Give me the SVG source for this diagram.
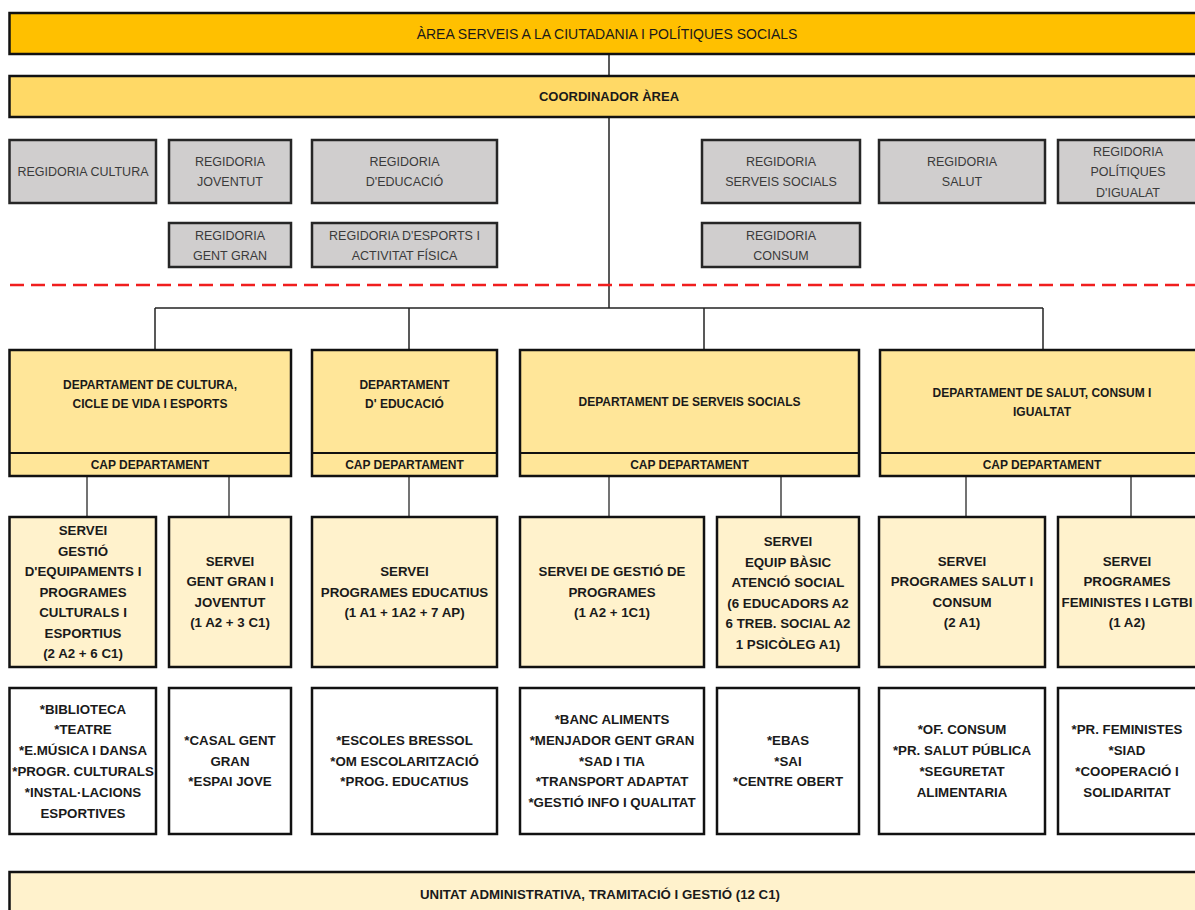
<svg xmlns="http://www.w3.org/2000/svg" width="1195" height="910" viewBox="0 0 1195 910">
<style>
.bx{stroke:#111;stroke-width:2.5}
.top{fill:#FFC000}
.coord{fill:#FFD966}
.reg{fill:#D0CECE;stroke:#262626;stroke-width:2.5}
.dep{fill:#FFE699}
.srv{fill:#FFF2CC}
.lst{fill:#FFFFFF}
.t{font-family:"Liberation Sans",Arial,sans-serif;text-anchor:middle;fill:#1a1a1a}
.tt{font-size:14px}
.tc{font-size:13px;font-weight:bold}
.tr{font-size:12.5px;fill:#3a3a3a}
.td{font-size:12px;font-weight:bold}
.ts{font-size:13.3px;font-weight:bold}
.conn line{stroke:#222;stroke-width:1.5}
.conn line.lo{stroke:#444}
</style>
<rect width="1195" height="910" fill="#fff"/>
<g class="conn">
<line x1="609" y1="54" x2="609" y2="76"/>
<line x1="609" y1="117" x2="609" y2="308"/>
<line x1="155" y1="308" x2="1043" y2="308"/>
<line x1="155" y1="308" x2="155" y2="350"/>
<line x1="409" y1="308" x2="409" y2="350"/>
<line x1="704" y1="308" x2="704" y2="350"/>
<line x1="1043" y1="308" x2="1043" y2="350"/>
<line class="lo" x1="87" y1="476" x2="87" y2="517"/>
<line class="lo" x1="229" y1="476" x2="229" y2="517"/>
<line class="lo" x1="409" y1="476" x2="409" y2="517"/>
<line class="lo" x1="609" y1="476" x2="609" y2="517"/>
<line class="lo" x1="781" y1="476" x2="781" y2="517"/>
<line class="lo" x1="966" y1="476" x2="966" y2="517"/>
<line class="lo" x1="1131" y1="476" x2="1131" y2="517"/>
</g>
<line id="divider" x1="10" y1="285" x2="1195" y2="285" stroke="#F01E1E" stroke-width="2.5" stroke-dasharray="14 7"/>
<g id="area"><rect class="bx top" x="9.5" y="13" width="1200" height="41"/><text class="t tt" x="607" y="38.5">ÀREA SERVEIS A LA CIUTADANIA I POLÍTIQUES SOCIALS</text></g>
<g id="coordinador"><rect class="bx coord" x="9.5" y="76" width="1200" height="41"/><text class="t tc" x="609" y="101">COORDINADOR ÀREA</text></g>
<g id="reg-cultura"><rect class="reg" x="9.5" y="140" width="146.5" height="63"/><text class="t tr" x="83" y="176">REGIDORIA CULTURA</text></g>
<g id="reg-joventut"><rect class="reg" x="169" y="140" width="122" height="63"/><text class="t tr" x="230" y="166">REGIDORIA</text><text class="t tr" x="230" y="186">JOVENTUT</text></g>
<g id="reg-educacio"><rect class="reg" x="312" y="140" width="185" height="63"/><text class="t tr" x="404.5" y="166">REGIDORIA</text><text class="t tr" x="404.5" y="186">D'EDUCACIÓ</text></g>
<g id="reg-serveis"><rect class="reg" x="702" y="140" width="158" height="63"/><text class="t tr" x="781" y="166">REGIDORIA</text><text class="t tr" x="781" y="186">SERVEIS SOCIALS</text></g>
<g id="reg-salut"><rect class="reg" x="879" y="140" width="166" height="63"/><text class="t tr" x="962" y="166">REGIDORIA</text><text class="t tr" x="962" y="186">SALUT</text></g>
<g id="reg-igualtat"><rect class="reg" x="1058" y="140" width="150" height="63"/><text class="t tr" x="1128" y="155.5">REGIDORIA</text><text class="t tr" x="1128" y="176">POLÍTIQUES</text><text class="t tr" x="1128" y="196.5">D'IGUALAT</text></g>
<g id="reg-gentgran"><rect class="reg" x="169" y="223" width="122" height="44"/><text class="t tr" x="230" y="239.5">REGIDORIA</text><text class="t tr" x="230" y="259.5">GENT GRAN</text></g>
<g id="reg-esports"><rect class="reg" x="312" y="223" width="185" height="44"/><text class="t tr" x="404.5" y="239.5">REGIDORIA D'ESPORTS I</text><text class="t tr" x="404.5" y="259.5">ACTIVITAT FÍSICA</text></g>
<g id="reg-consum"><rect class="reg" x="702" y="223" width="158" height="44"/><text class="t tr" x="781" y="239.5">REGIDORIA</text><text class="t tr" x="781" y="259.5">CONSUM</text></g>
<g id="dep-cultura"><rect class="bx dep" x="9.5" y="350" width="281.5" height="126"/><line x1="9.5" y1="453" x2="291" y2="453" stroke="#111" stroke-width="2"/><text class="t td" x="150" y="389.3">DEPARTAMENT DE CULTURA,</text><text class="t td" x="150" y="408.3">CICLE DE VIDA I ESPORTS</text><text class="t td" x="150" y="468.8">CAP DEPARTAMENT</text></g>
<g id="dep-educacio"><rect class="bx dep" x="312" y="350" width="185" height="126"/><line x1="312" y1="453" x2="497" y2="453" stroke="#111" stroke-width="2"/><text class="t td" x="404.5" y="389.3">DEPARTAMENT</text><text class="t td" x="404.5" y="408.3">D' EDUCACIÓ</text><text class="t td" x="404.5" y="468.8">CAP DEPARTAMENT</text></g>
<g id="dep-serveis"><rect class="bx dep" x="520" y="350" width="339" height="126"/><line x1="520" y1="453" x2="859" y2="453" stroke="#111" stroke-width="2"/><text class="t td" x="689.5" y="406.3">DEPARTAMENT DE SERVEIS SOCIALS</text><text class="t td" x="689.5" y="468.8">CAP DEPARTAMENT</text></g>
<g id="dep-salut"><rect class="bx dep" x="880" y="350" width="330" height="126"/><line x1="880" y1="453" x2="1210" y2="453" stroke="#111" stroke-width="2"/><text class="t td" x="1042" y="397.3">DEPARTAMENT DE SALUT, CONSUM I</text><text class="t td" x="1042" y="416.3">IGUALTAT</text><text class="t td" x="1042" y="468.8">CAP DEPARTAMENT</text></g>
<g id="srv-equipaments"><rect class="bx srv" x="9.5" y="517" width="146.5" height="150"/><text class="t ts" x="83" y="535.1">SERVEI</text><text class="t ts" x="83" y="555.6">GESTIÓ</text><text class="t ts" x="83" y="576.1">D'EQUIPAMENTS I</text><text class="t ts" x="83" y="596.6">PROGRAMES</text><text class="t ts" x="83" y="617.1">CULTURALS I</text><text class="t ts" x="83" y="637.6">ESPORTIUS</text><text class="t ts" x="83" y="658.1">(2 A2 + 6 C1)</text></g>
<g id="srv-gentgran"><rect class="bx srv" x="169" y="517" width="122" height="150"/><text class="t ts" x="230" y="565.9">SERVEI</text><text class="t ts" x="230" y="586.4">GENT GRAN I</text><text class="t ts" x="230" y="606.9">JOVENTUT</text><text class="t ts" x="230" y="627.4">(1 A2 + 3 C1)</text></g>
<g id="srv-educatius"><rect class="bx srv" x="312" y="517" width="185" height="150"/><text class="t ts" x="404.5" y="576.1">SERVEI</text><text class="t ts" x="404.5" y="596.6">PROGRAMES EDUCATIUS</text><text class="t ts" x="404.5" y="617.1">(1 A1 + 1A2 + 7 AP)</text></g>
<g id="srv-gestio"><rect class="bx srv" x="520" y="517" width="184" height="150"/><text class="t ts" x="612" y="576.1">SERVEI DE GESTIÓ DE</text><text class="t ts" x="612" y="596.6">PROGRAMES</text><text class="t ts" x="612" y="617.1">(1 A2 + 1C1)</text></g>
<g id="srv-ebas"><rect class="bx srv" x="717" y="517" width="142" height="150"/><text class="t ts" x="788" y="546.4">SERVEI</text><text class="t ts" x="788" y="566.9">EQUIP BÀSIC</text><text class="t ts" x="788" y="587.4">ATENCIÓ SOCIAL</text><text class="t ts" x="788" y="607.9">(6 EDUCADORS A2</text><text class="t ts" x="788" y="628.4">6 TREB. SOCIAL A2</text><text class="t ts" x="788" y="648.9">1 PSICÒLEG A1)</text></g>
<g id="srv-salut"><rect class="bx srv" x="879" y="517" width="166" height="150"/><text class="t ts" x="962" y="565.9">SERVEI</text><text class="t ts" x="962" y="586.4">PROGRAMES SALUT I</text><text class="t ts" x="962" y="606.9">CONSUM</text><text class="t ts" x="962" y="627.4">(2 A1)</text></g>
<g id="srv-feministes"><rect class="bx srv" x="1058" y="517" width="150" height="150"/><text class="t ts" x="1127" y="565.9">SERVEI</text><text class="t ts" x="1127" y="586.4">PROGRAMES</text><text class="t ts" x="1127" y="606.9">FEMINISTES I LGTBI</text><text class="t ts" x="1127" y="627.4">(1 A2)</text></g>
<g id="list-cultura"><rect class="bx lst" x="9.5" y="688" width="146.5" height="146"/><text class="t ts" x="83" y="713.6">*BIBLIOTECA</text><text class="t ts" x="83" y="734.4">*TEATRE</text><text class="t ts" x="83" y="755.2">*E.MÚSICA I DANSA</text><text class="t ts" x="83" y="776">*PROGR. CULTURALS</text><text class="t ts" x="83" y="796.8">*INSTAL·LACIONS</text><text class="t ts" x="83" y="817.6">ESPORTIVES</text></g>
<g id="list-gentgran"><rect class="bx lst" x="169" y="688" width="122" height="146"/><text class="t ts" x="230" y="744.8">*CASAL GENT</text><text class="t ts" x="230" y="765.6">GRAN</text><text class="t ts" x="230" y="786.4">*ESPAI JOVE</text></g>
<g id="list-educacio"><rect class="bx lst" x="312" y="688" width="185" height="146"/><text class="t ts" x="404.5" y="744.8">*ESCOLES BRESSOL</text><text class="t ts" x="404.5" y="765.6">*OM ESCOLARITZACIÓ</text><text class="t ts" x="404.5" y="786.4">*PROG. EDUCATIUS</text></g>
<g id="list-gestio"><rect class="bx lst" x="520" y="688" width="184" height="146"/><text class="t ts" x="612" y="724">*BANC ALIMENTS</text><text class="t ts" x="612" y="744.8">*MENJADOR GENT GRAN</text><text class="t ts" x="612" y="765.6">*SAD I TIA</text><text class="t ts" x="612" y="786.4">*TRANSPORT ADAPTAT</text><text class="t ts" x="612" y="807.2">*GESTIÓ INFO I QUALITAT</text></g>
<g id="list-ebas"><rect class="bx lst" x="717" y="688" width="142" height="146"/><text class="t ts" x="788" y="744.8">*EBAS</text><text class="t ts" x="788" y="765.6">*SAI</text><text class="t ts" x="788" y="786.4">*CENTRE OBERT</text></g>
<g id="list-salut"><rect class="bx lst" x="879" y="688" width="166" height="146"/><text class="t ts" x="962" y="734.4">*OF. CONSUM</text><text class="t ts" x="962" y="755.2">*PR. SALUT PÚBLICA</text><text class="t ts" x="962" y="776">*SEGURETAT</text><text class="t ts" x="962" y="796.8">ALIMENTARIA</text></g>
<g id="list-feministes"><rect class="bx lst" x="1058" y="688" width="150" height="146"/><text class="t ts" x="1127" y="734.4">*PR. FEMINISTES</text><text class="t ts" x="1127" y="755.2">*SIAD</text><text class="t ts" x="1127" y="776">*COOPERACIÓ I</text><text class="t ts" x="1127" y="796.8">SOLIDARITAT</text></g>
<g id="unitat"><rect class="bx srv" x="9.5" y="872" width="1200" height="50"/><text class="t ts" x="600" y="898.6" textLength="360" lengthAdjust="spacingAndGlyphs">UNITAT ADMINISTRATIVA, TRAMITACIÓ I GESTIÓ (12 C1)</text></g>
</svg>
